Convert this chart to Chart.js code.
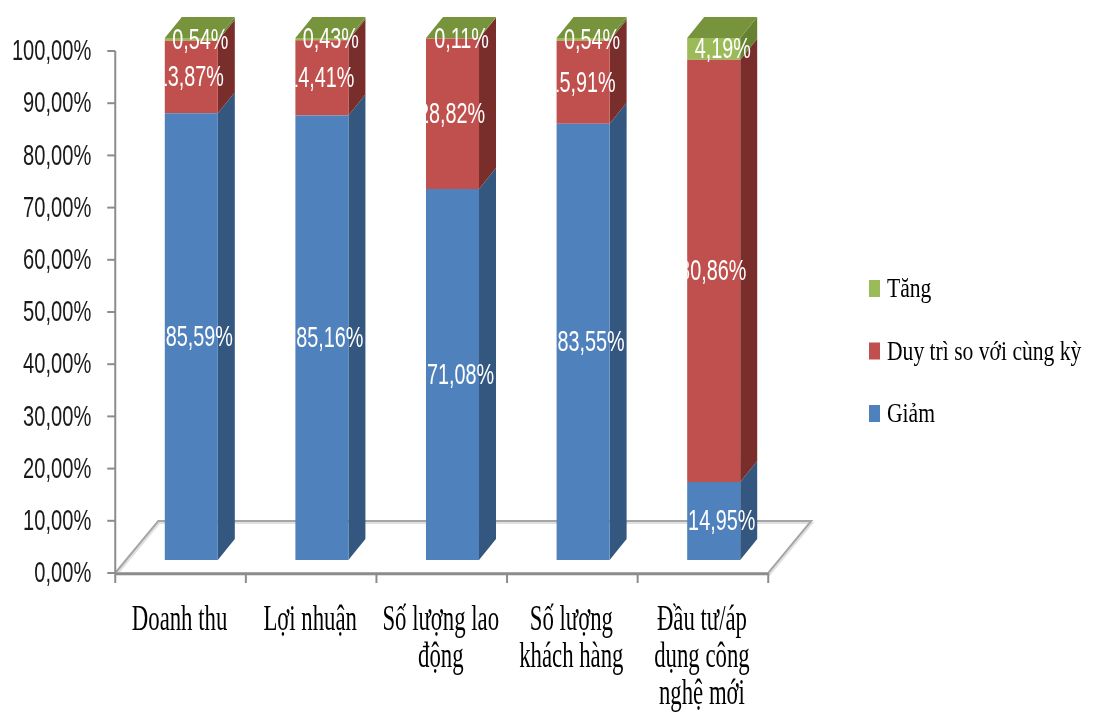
<!DOCTYPE html>
<html>
<head>
<meta charset="utf-8">
<script src="https://cdn.jsdelivr.net/npm/chart.js@4.4.1/dist/chart.umd.min.js"></script>
<style>
    html, body { margin:0; padding:0; background:#fff; }
    #wrap { width:1099px; height:722px; }
</style>
</head>
<body>
<div id="wrap"><canvas id="summaryChart" width="1099" height="722"></canvas></div>
<script>
// ===============================
// Data
// ===============================

const categories = [
    ["Doanh thu"],
    ["Lợi nhuận"],
    ["Số lượng lao", "động"],
    ["Số lượng", "khách hàng"],
    ["Đầu tư/áp", "dụng công", "nghệ mới"]
];

const giam   = [85.59, 85.16, 71.08, 83.55, 14.95];
const duyTri = [13.87, 14.41, 28.82, 15.91, 80.86];
const tang   = [0.54, 0.43, 0.11, 0.54, 4.19];

const seriesNames = ["Giảm", "Duy trì so với cùng kỳ", "Tăng"];

const yTicks = [0, 10, 20, 30, 40, 50, 60, 70, 80, 90, 100];

// ===============================
// Look
// ===============================

const FRONT = ["#4F81BD", "#C0504D", "#9BBB59"];
const SIDE  = ["#34577F", "#7A2E2C", "#66812F"];
const TOP   = ["#3F6797", "#9A3E3B", "#77933C"];

// bar depth and floor depth (pixels on screen)
const BAR_DX = 17, BAR_DY = 21;
const FLOOR_DX = 43, FLOOR_DY = 52;
const BAR_PLANE = 0.25;   // bars stand a quarter way into the floor

// label nudges per series (Giảm, Duy trì, Tăng)
const LABEL_SHIFT = [8, -1, 9];

const SANS  = "'Liberation Sans', Arial, sans-serif";
const SERIF = "'Liberation Serif', 'Times New Roman', serif";

function fmt(v){
    return v.toFixed(2).replace(".", ",") + "%";
}

// narrow text: draw with a horizontal squeeze
function narrowText(ctx, str, x, y, font, sx, align, baseline, color){
    ctx.save();
    ctx.font = font;
    ctx.fillStyle = color;
    ctx.textAlign = align;
    ctx.textBaseline = baseline;
    ctx.translate(x, y);
    ctx.scale(sx, 1);
    ctx.fillText(str, 0, 0);
    ctx.restore();
}

function proj(x, y, d){
    return [x + (d - BAR_PLANE) * FLOOR_DX, y - (d - BAR_PLANE) * FLOOR_DY];
}

function poly(ctx, pts, fill){
    ctx.beginPath();
    ctx.moveTo(pts[0][0], pts[0][1]);
    for(let i=1;i<pts.length;i++) ctx.lineTo(pts[i][0], pts[i][1]);
    ctx.closePath();
    ctx.fillStyle = fill;
    ctx.fill();
}

// ===============================
// 3D plugin: floor, axes, side faces, labels, legend
// ===============================

const box3d = {
    id: "box3d",

    beforeDatasetsDraw(chart){
        const ctx = chart.ctx;
        const area = chart.chartArea;
        const xs = chart.scales.x;
        const ys = chart.scales.y;
        const y0 = ys.getPixelForValue(0);

        // ---------- floor ----------
        const fl = proj(area.left, y0, 0);
        const fr = proj(area.right, y0, 0);
        const bl = proj(area.left, y0, 1);
        const br = proj(area.right, y0, 1);

        ctx.save();
        ctx.lineJoin = "miter";
        ctx.strokeStyle = "rgba(0,0,0,0.12)";
        ctx.lineWidth = 2;
        ctx.beginPath();
        ctx.moveTo(fl[0]+1, fl[1]+2); ctx.lineTo(bl[0]+1, bl[1]+2);
        ctx.lineTo(br[0]+1, br[1]+2); ctx.lineTo(fr[0]+1, fr[1]+2);
        ctx.closePath();
        ctx.stroke();

        ctx.strokeStyle = "#A6A6A6";
        ctx.lineWidth = 2;
        ctx.beginPath();
        ctx.moveTo(fl[0], fl[1]); ctx.lineTo(bl[0], bl[1]);
        ctx.lineTo(br[0], br[1]); ctx.lineTo(fr[0], fr[1]);
        ctx.closePath();
        ctx.stroke();

        // ---------- value axis ----------
        const axTop = proj(area.left, ys.getPixelForValue(100), 0);
        ctx.strokeStyle = "#8C8C8C";
        ctx.lineWidth = 2;
        ctx.beginPath();
        ctx.moveTo(axTop[0], axTop[1]);
        ctx.lineTo(fl[0], fl[1]);
        ctx.stroke();

        yTicks.forEach(v=>{
            const p = proj(area.left, ys.getPixelForValue(v), 0);
            ctx.beginPath();
            ctx.moveTo(p[0]-8, p[1]);
            ctx.lineTo(p[0], p[1]);
            ctx.stroke();
            narrowText(ctx, fmt(v), p[0]-24, p[1]+1, "30px " + SANS, 0.67, "right", "middle", "#1A1A1A");
        });

        // ---------- category axis ----------
        ctx.beginPath();
        ctx.moveTo(fl[0], fl[1]+1);
        ctx.lineTo(fr[0], fr[1]+1);
        ctx.stroke();

        const n = categories.length;
        for(let i=0;i<=n;i++){
            let x;
            if(i===0) x = area.left;
            else if(i===n) x = area.right;
            else x = (xs.getPixelForValue(i-1) + xs.getPixelForValue(i)) / 2;
            const p = proj(x, y0, 0);
            ctx.beginPath();
            ctx.moveTo(p[0], p[1]);
            ctx.lineTo(p[0], p[1]+10);
            ctx.stroke();
        }

        categories.forEach((lines, i)=>{
            const p = proj(xs.getPixelForValue(i), y0, 0);
            lines.forEach((t, k)=>{
                narrowText(ctx, t, p[0]-1, 630 + k*37, "35px " + SERIF, 0.65, "center", "alphabetic", "#000");
            });
        });

        // ---------- legend ----------
        const legendOrder = [2, 1, 0];
        legendOrder.forEach((s, k)=>{
            const base = 297 + k*62.5;
            ctx.fillStyle = FRONT[s];
            ctx.fillRect(869, base-17, 11, 17);
            narrowText(ctx, seriesNames[s], 887, base, "27px " + SERIF, 0.8, "left", "alphabetic", "#000");
        });

        // ---------- side and top faces ----------
        const last = chart.data.datasets.length - 1;
        chart.data.datasets.forEach((ds, s)=>{
            const meta = chart.getDatasetMeta(s);
            meta.data.forEach(el=>{
                const right = el.x + el.width/2;
                const left = el.x - el.width/2;
                const top = Math.min(el.y, el.base);
                const bot = Math.max(el.y, el.base);
                poly(ctx, [[right, top], [right+BAR_DX, top-BAR_DY], [right+BAR_DX, bot-BAR_DY], [right, bot]], SIDE[s]);
                if(s === last){
                    poly(ctx, [[left, top], [left+BAR_DX, top-BAR_DY], [right+BAR_DX, top-BAR_DY], [right, top]], TOP[s]);
                }
            });
        });

        ctx.restore();
    },

    afterDatasetsDraw(chart){
        const ctx = chart.ctx;
        chart.data.datasets.forEach((ds, s)=>{
            const meta = chart.getDatasetMeta(s);
            meta.data.forEach((el, i)=>{
                const left = el.x - el.width/2;
                const right = el.x + el.width/2;
                const mid = (el.y + el.base) / 2;
                ctx.save();
                ctx.beginPath();
                ctx.rect(left, 0, right + BAR_DX - left, chart.height);
                ctx.clip();
                narrowText(ctx, fmt(ds.data[i]), el.x + LABEL_SHIFT[s], mid + 1, "30px " + SANS, 0.66, "center", "middle", "#FFFFFF");
                ctx.restore();
            });
        });
    }
};

// ===============================
// Chart
// ===============================

const ctx = document.getElementById("summaryChart");

const chart = new Chart(ctx, {
    type: "bar",
    data: {
        labels: categories,
        datasets: [
            { label: seriesNames[0], data: giam,   backgroundColor: FRONT[0] },
            { label: seriesNames[1], data: duyTri, backgroundColor: FRONT[1] },
            { label: seriesNames[2], data: tang,   backgroundColor: FRONT[2] }
        ]
    },
    options: {
        responsive: false,
        animation: false,
        layout: {
            padding: { left:126, right:320, top:38, bottom:162 }
        },
        datasets: {
            bar: {
                categoryPercentage: 1,
                barPercentage: 0.406,
                borderWidth: 0,
                clip: false
            }
        },
        scales: {
            x: { stacked:true, display:false },
            y: { stacked:true, display:false, min:0, max:100 }
        },
        plugins: {
            legend: { display:false },
            tooltip: { enabled:false }
        }
    },
    plugins: [box3d]
});
</script>
</body>
</html>
